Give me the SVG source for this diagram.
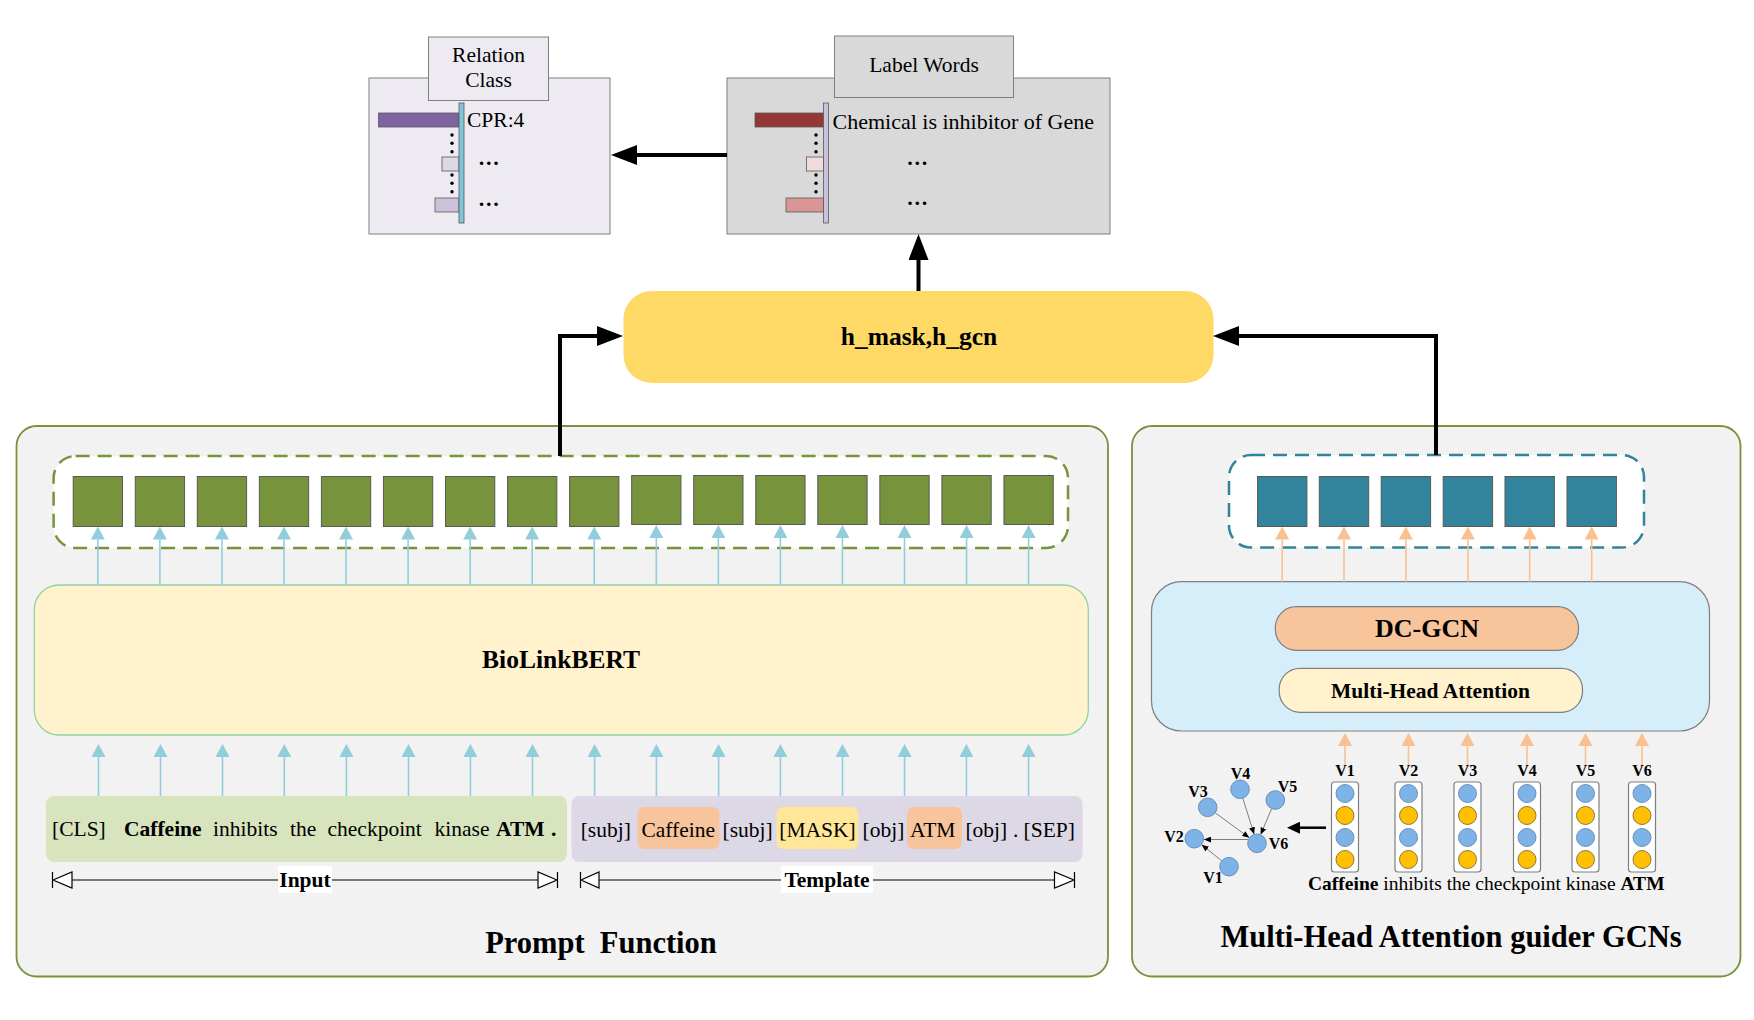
<svg xmlns="http://www.w3.org/2000/svg" width="1754" height="1020" viewBox="0 0 1754 1020">
<style>
.t{font-family:"Liberation Serif","Times New Roman",serif;fill:#000}
.b{font-weight:bold}
.panel{fill:#F2F2F2;stroke:#77933C;stroke-width:1.8}
.gsq{fill:#77933C;stroke:#595959;stroke-width:1}
.tsq{fill:#31849B;stroke:#595959;stroke-width:1}
.cy{stroke:#92CDDC;stroke-width:1.6;fill:none;marker-end:url(#mc)}
.or{stroke:#FAC090;stroke-width:1.6;fill:none;marker-end:url(#mo)}
.big{stroke:#000;stroke-width:4;fill:none;marker-end:url(#mb)}
.edge{stroke:#7F7F7F;stroke-width:1;fill:none;marker-end:url(#ms)}
.nb{fill:#7DB3E6;stroke:#6A8FB8;stroke-width:1}
.ny{fill:#FFC000;stroke:#8C7A3A;stroke-width:1}
.col{fill:#FFFFFF;stroke:#7F7F7F;stroke-width:1.2}
.dim{stroke:#000;stroke-width:1.2;fill:none}
.tri{fill:#FFFFFF;stroke:#000;stroke-width:1.2}
.dot{fill:#000}
</style>
<defs>
<marker id="mb" markerUnits="userSpaceOnUse" markerWidth="26" markerHeight="20" refX="0" refY="10" orient="auto"><path d="M0,0 L26,10 L0,20 z" fill="#000"/></marker>
<marker id="mc" markerUnits="userSpaceOnUse" markerWidth="13" markerHeight="14" refX="0" refY="7" orient="auto"><path d="M0,0 L13,7 L0,14 z" fill="#92CDDC"/></marker>
<marker id="mo" markerUnits="userSpaceOnUse" markerWidth="13" markerHeight="14" refX="0" refY="7" orient="auto"><path d="M0,0 L13,7 L0,14 z" fill="#FAC090"/></marker>
<marker id="ms" markerUnits="userSpaceOnUse" markerWidth="7" markerHeight="6" refX="7" refY="3" orient="auto"><path d="M0,0 L7,3 L0,6 z" fill="#000"/></marker>
<marker id="mg" markerUnits="userSpaceOnUse" markerWidth="13" markerHeight="12" refX="0" refY="6" orient="auto"><path d="M0,0 L13,6 L0,12 z" fill="#000"/></marker>
</defs>

<!-- Panels -->
<g id="prompt-function-panel">
<rect class="panel" x="16.5" y="426" width="1091.5" height="550.5" rx="20"/>
<text class="t b" font-size="30.5" x="601" y="953" text-anchor="middle" xml:space="preserve">Prompt  Function</text>
</g>
<g id="gcn-panel">
<rect class="panel" x="1132" y="426" width="608.5" height="550.5" rx="20"/>
<text class="t b" font-size="30.5" x="1451" y="946.5" text-anchor="middle">Multi-Head Attention guider GCNs</text>
</g>

<!-- Relation Class -->
<g id="relation-class">
<rect x="369" y="78" width="241" height="156" fill="#EDEAF2" stroke="#7F7F7F" stroke-width="1"/>
<rect x="428.5" y="37" width="120" height="63.5" fill="#EDEAF2" stroke="#7F7F7F" stroke-width="1"/>
<text class="t" font-size="21.5" x="488.5" y="61.5" text-anchor="middle">Relation</text>
<text class="t" font-size="21.5" x="488.5" y="87" text-anchor="middle">Class</text>
<rect x="378.5" y="113" width="80.5" height="14" fill="#8064A2" stroke="#595959" stroke-width="0.8"/>
<rect x="442" y="157" width="17" height="14" fill="#DCD8E6" stroke="#595959" stroke-width="0.8"/>
<rect x="435" y="198" width="24" height="14" fill="#CCC1DA" stroke="#595959" stroke-width="0.8"/>
<rect x="459" y="103" width="5" height="120" fill="#7FC6D8" stroke="#595959" stroke-width="0.8"/>
<circle class="dot" cx="452" cy="135" r="1.7"/><circle class="dot" cx="452" cy="143.3" r="1.7"/><circle class="dot" cx="452" cy="151.7" r="1.7"/>
<circle class="dot" cx="452" cy="175" r="1.7"/><circle class="dot" cx="452" cy="183.3" r="1.7"/><circle class="dot" cx="452" cy="191.7" r="1.7"/>
<text class="t" font-size="21.5" x="467" y="127">CPR:4</text>
<text class="t b" font-size="21.5" x="478" y="165">…</text>
<text class="t b" font-size="21.5" x="478" y="206">…</text>
</g>

<!-- Label Words -->
<g id="label-words">
<rect x="727" y="78" width="383" height="156" fill="#D9D9D9" stroke="#7F7F7F" stroke-width="1"/>
<rect x="834.5" y="36" width="179" height="61.5" fill="#D9D9D9" stroke="#7F7F7F" stroke-width="1"/>
<text class="t" font-size="21.5" x="924" y="71.5" text-anchor="middle">Label Words</text>
<rect x="755" y="113" width="68.5" height="14" fill="#953735" stroke="#595959" stroke-width="0.8"/>
<rect x="806.5" y="157" width="17" height="14" fill="#F2DCDB" stroke="#595959" stroke-width="0.8"/>
<rect x="786" y="198" width="37.5" height="14" fill="#D99694" stroke="#595959" stroke-width="0.8"/>
<rect x="823.5" y="103" width="5" height="120" fill="#CCC1DA" stroke="#595959" stroke-width="0.8"/>
<circle class="dot" cx="816" cy="135" r="1.7"/><circle class="dot" cx="816" cy="143.3" r="1.7"/><circle class="dot" cx="816" cy="151.7" r="1.7"/>
<circle class="dot" cx="816" cy="175" r="1.7"/><circle class="dot" cx="816" cy="183.3" r="1.7"/><circle class="dot" cx="816" cy="191.7" r="1.7"/>
<text class="t" font-size="22" x="832.5" y="129">Chemical is inhibitor of Gene</text>
<text class="t b" font-size="21.5" x="906.5" y="165">…</text>
<text class="t b" font-size="21.5" x="906.5" y="205">…</text>
</g>

<!-- h_mask -->
<g id="h-mask">
<rect x="623.5" y="291" width="590" height="92" rx="28" fill="#FFD966"/>
<text class="t b" font-size="25.5" x="919" y="345" text-anchor="middle">h_mask,h_gcn</text>
</g>

<!-- Green token vectors -->
<g id="bert-output">
<rect x="53.6" y="456" width="1014.4" height="92" rx="22" fill="#FFFFFF" stroke="#77933C" stroke-width="2.5" stroke-dasharray="14 8"/>
<rect class="gsq" x="73.2" y="476.5" width="49.3" height="50"/>
<rect class="gsq" x="135.25" y="476.5" width="49.3" height="50"/>
<rect class="gsq" x="197.3" y="476.5" width="49.3" height="50"/>
<rect class="gsq" x="259.35" y="476.5" width="49.3" height="50"/>
<rect class="gsq" x="321.4" y="476.5" width="49.3" height="50"/>
<rect class="gsq" x="383.45" y="476.5" width="49.3" height="50"/>
<rect class="gsq" x="445.5" y="476.5" width="49.3" height="50"/>
<rect class="gsq" x="507.55" y="476.5" width="49.3" height="50"/>
<rect class="gsq" x="569.6" y="476.5" width="49.3" height="50"/>
<rect class="gsq" x="631.65" y="475.5" width="49.3" height="49"/>
<rect class="gsq" x="693.7" y="475.5" width="49.3" height="49"/>
<rect class="gsq" x="755.75" y="475.5" width="49.3" height="49"/>
<rect class="gsq" x="817.8" y="475.5" width="49.3" height="49"/>
<rect class="gsq" x="879.85" y="475.5" width="49.3" height="49"/>
<rect class="gsq" x="941.9" y="475.5" width="49.3" height="49"/>
<rect class="gsq" x="1003.95" y="475.5" width="49.3" height="49"/>
</g>

<!-- BioLinkBERT -->
<g id="biolinkbert">
<rect x="34.3" y="585" width="1054" height="150" rx="25" fill="#FFF2CC" stroke="#8FD4A4" stroke-width="1.3"/>
<text class="t b" font-size="25.5" x="561" y="668" text-anchor="middle">BioLinkBERT</text>
</g>

<!-- Input -->
<g id="input">
<rect x="46" y="796" width="521" height="66" rx="8" fill="#D7E4BD"/>
<text class="t" font-size="21.5" y="836"><tspan x="52">[CLS]</tspan><tspan x="124" class="b">Caffeine</tspan><tspan x="213">inhibits</tspan><tspan x="290">the</tspan><tspan x="327.5">checkpoint</tspan><tspan x="434.6">kinase</tspan><tspan x="496" class="b">ATM</tspan><tspan x="551" class="b">.</tspan></text>
<path class="dim" d="M52.5,872 V888 M557.5,872 V888 M72,880 H538"/>
<path class="tri" d="M53,880 L72,872 L72,888 z"/>
<path class="tri" d="M557,880 L538,872 L538,888 z"/>
<rect x="278" y="866" width="54" height="27" fill="#FFFFFF"/>
<text class="t b" font-size="21.5" x="305" y="887" text-anchor="middle">Input</text>
</g>

<!-- Template -->
<g id="template">
<rect x="571.5" y="796" width="511" height="66" rx="8" fill="#DDD8E6"/>
<rect x="637.5" y="807" width="82" height="42" rx="7" fill="#F8C49B"/>
<rect x="776.5" y="807" width="82" height="42" rx="7" fill="#FFE699"/>
<rect x="907" y="807" width="55" height="42" rx="7" fill="#F8C49B"/>
<text class="t" font-size="21.5" y="836.5"><tspan x="580.7">[subj]</tspan><tspan x="641.4">Caffeine</tspan><tspan x="722.5">[subj]</tspan><tspan x="779.3">[MASK]</tspan><tspan x="862.5">[obj]</tspan><tspan x="910">ATM</tspan><tspan x="965.4">[obj]</tspan><tspan x="1013">.</tspan><tspan x="1023.6">[SEP]</tspan></text>
<path class="dim" d="M580.5,872 V888 M1074.5,872 V888 M599,880 H1054.5"/>
<path class="tri" d="M581,880 L599,872 L599,888 z"/>
<path class="tri" d="M1074,880 L1054.5,872 L1054.5,888 z"/>
<rect x="781" y="866" width="92" height="27" fill="#FFFFFF"/>
<text class="t b" font-size="21.5" x="827" y="887" text-anchor="middle">Template</text>
</g>

<!-- GCN output vectors -->
<g id="gcn-output">
<rect x="1229" y="455" width="415" height="92.5" rx="22" fill="#FFFFFF" stroke="#31849B" stroke-width="2.5" stroke-dasharray="14 8"/>
<rect class="tsq" x="1257.5" y="476.5" width="49.4" height="50"/>
<rect class="tsq" x="1319.3" y="476.5" width="49.4" height="50"/>
<rect class="tsq" x="1381.2" y="476.5" width="49.4" height="50"/>
<rect class="tsq" x="1443.2" y="476.5" width="49.4" height="50"/>
<rect class="tsq" x="1505" y="476.5" width="49.4" height="50"/>
<rect class="tsq" x="1567" y="476.5" width="49.4" height="50"/>
</g>

<!-- GCN block -->
<g id="gcn-block">
<rect x="1151.5" y="581.7" width="558" height="149.3" rx="30" fill="#D5EEF9" stroke="#7F7F7F" stroke-width="1.2"/>
<rect x="1275.3" y="606.7" width="303.2" height="43.6" rx="21" fill="#F8C49B" stroke="#7F7F7F" stroke-width="1.2"/>
<text class="t b" font-size="26" x="1427" y="637" text-anchor="middle">DC-GCN</text>
<rect x="1279.2" y="668.3" width="303.3" height="44" rx="21" fill="#FFF2CC" stroke="#7F7F7F" stroke-width="1.2"/>
<text class="t b" font-size="21.5" x="1430.5" y="697.5" text-anchor="middle">Multi-Head Attention</text>
</g>

<!-- Word vectors -->
<g id="word-vectors">
<text class="t b" font-size="16" y="776" text-anchor="middle"><tspan x="1345">V1</tspan><tspan x="1408.5">V2</tspan><tspan x="1467.5">V3</tspan><tspan x="1527">V4</tspan><tspan x="1585.5">V5</tspan><tspan x="1642">V6</tspan></text>
<rect class="col" x="1331.5" y="782" width="27" height="90" rx="3"/>
<rect class="col" x="1395" y="782" width="27" height="90" rx="3"/>
<rect class="col" x="1454" y="782" width="27" height="90" rx="3"/>
<rect class="col" x="1513.5" y="782" width="27" height="90" rx="3"/>
<rect class="col" x="1572" y="782" width="27" height="90" rx="3"/>
<rect class="col" x="1628.5" y="782" width="27" height="90" rx="3"/>
<g>
<circle class="nb" cx="1345" cy="793.5" r="9"/><circle class="ny" cx="1345" cy="815.5" r="9"/><circle class="nb" cx="1345" cy="837.5" r="9"/><circle class="ny" cx="1345" cy="859.5" r="9"/>
<circle class="nb" cx="1408.5" cy="793.5" r="9"/><circle class="ny" cx="1408.5" cy="815.5" r="9"/><circle class="nb" cx="1408.5" cy="837.5" r="9"/><circle class="ny" cx="1408.5" cy="859.5" r="9"/>
<circle class="nb" cx="1467.5" cy="793.5" r="9"/><circle class="ny" cx="1467.5" cy="815.5" r="9"/><circle class="nb" cx="1467.5" cy="837.5" r="9"/><circle class="ny" cx="1467.5" cy="859.5" r="9"/>
<circle class="nb" cx="1527" cy="793.5" r="9"/><circle class="ny" cx="1527" cy="815.5" r="9"/><circle class="nb" cx="1527" cy="837.5" r="9"/><circle class="ny" cx="1527" cy="859.5" r="9"/>
<circle class="nb" cx="1585.5" cy="793.5" r="9"/><circle class="ny" cx="1585.5" cy="815.5" r="9"/><circle class="nb" cx="1585.5" cy="837.5" r="9"/><circle class="ny" cx="1585.5" cy="859.5" r="9"/>
<circle class="nb" cx="1642" cy="793.5" r="9"/><circle class="ny" cx="1642" cy="815.5" r="9"/><circle class="nb" cx="1642" cy="837.5" r="9"/><circle class="ny" cx="1642" cy="859.5" r="9"/>
</g>
<text class="t" font-size="19.5" x="1308" y="890"><tspan class="b">Caffeine</tspan> inhibits the checkpoint kinase <tspan class="b">ATM</tspan></text>
</g>

<!-- Dependency graph -->
<g id="graph">
<path class="edge" d="M1215.2,812.8 L1249.3,837.7"/>
<path class="edge" d="M1242.8,798.2 L1254.1,834.2"/>
<path class="edge" d="M1271.7,808.6 L1260.7,834.5"/>
<path class="edge" d="M1248,839.5 L1204,839.5"/>
<path class="edge" d="M1221.8,860.9 L1201.7,844.7"/>
<circle class="nb" cx="1229" cy="866.7" r="9.3"/>
<circle class="nb" cx="1194.3" cy="838.7" r="9.3"/>
<circle class="nb" cx="1207.7" cy="807.3" r="9.3"/>
<circle class="nb" cx="1240" cy="789.3" r="9.3"/>
<circle class="nb" cx="1275.3" cy="800" r="9.3"/>
<circle class="nb" cx="1257" cy="843.3" r="9.3"/>
<text class="t b" font-size="16" x="1213" y="883" text-anchor="middle">V1</text>
<text class="t b" font-size="16" x="1174" y="842" text-anchor="middle">V2</text>
<text class="t b" font-size="16" x="1198" y="797" text-anchor="middle">V3</text>
<text class="t b" font-size="16" x="1240.5" y="778.5" text-anchor="middle">V4</text>
<text class="t b" font-size="16" x="1287.5" y="792" text-anchor="middle">V5</text>
<text class="t b" font-size="16" x="1278.5" y="848.5" text-anchor="middle">V6</text>
</g>

<!-- Connectors -->
<g id="connectors">
<path class="big" d="M560,456 V336 H597"/>
<path class="big" d="M1436,455 V336 H1239"/>
<path class="big" d="M918.5,291 V260"/>
<path class="big" d="M727,155 H637"/>
<path d="M1326,827.7 H1300" stroke="#000" stroke-width="2.5" fill="none" marker-end="url(#mg)"/>
<g>
<path class="cy" d="M97.85,585 V539.5"/><path class="cy" d="M159.9,585 V539.5"/><path class="cy" d="M221.95,585 V539.5"/><path class="cy" d="M284,585 V539.5"/>
<path class="cy" d="M346.05,585 V539.5"/><path class="cy" d="M408.1,585 V539.5"/><path class="cy" d="M470.15,585 V539.5"/><path class="cy" d="M532.2,585 V539.5"/>
<path class="cy" d="M594.25,585 V539.5"/><path class="cy" d="M656.3,585 V538"/><path class="cy" d="M718.35,585 V538"/><path class="cy" d="M780.4,585 V538"/>
<path class="cy" d="M842.45,585 V538"/><path class="cy" d="M904.5,585 V538"/><path class="cy" d="M966.55,585 V538"/><path class="cy" d="M1028.6,585 V538"/>
</g>
<g>
<path class="cy" d="M98.5,796 V757"/><path class="cy" d="M160.5,796 V757"/><path class="cy" d="M222.5,796 V757"/><path class="cy" d="M284.3,796 V757"/>
<path class="cy" d="M346.4,796 V757"/><path class="cy" d="M408.5,796 V757"/><path class="cy" d="M470.4,796 V757"/><path class="cy" d="M532.5,796 V757"/>
<path class="cy" d="M594.6,796 V757"/><path class="cy" d="M656.4,796 V757"/><path class="cy" d="M718.6,796 V757"/><path class="cy" d="M780.4,796 V757"/>
<path class="cy" d="M842.5,796 V757"/><path class="cy" d="M904.6,796 V757"/><path class="cy" d="M966.4,796 V757"/><path class="cy" d="M1028.6,796 V757"/>
</g>
<g>
<path class="or" d="M1282.2,581.7 V539.5"/><path class="or" d="M1344,581.7 V539.5"/><path class="or" d="M1405.9,581.7 V539.5"/>
<path class="or" d="M1467.9,581.7 V539.5"/><path class="or" d="M1529.7,581.7 V539.5"/><path class="or" d="M1591.7,581.7 V539.5"/>
</g>
<g>
<path class="or" d="M1345,765 V746"/><path class="or" d="M1408.5,765 V746"/><path class="or" d="M1467.5,765 V746"/>
<path class="or" d="M1527,765 V746"/><path class="or" d="M1585.5,765 V746"/><path class="or" d="M1642,765 V746"/>
</g>
</g>
</svg>
